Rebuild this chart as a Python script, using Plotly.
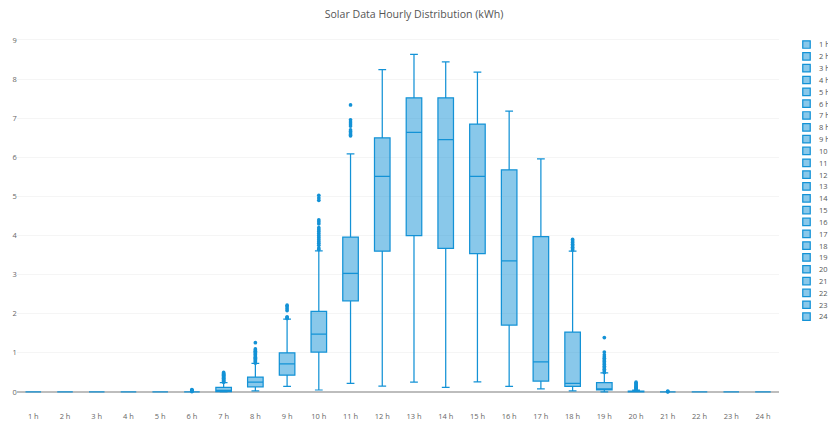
import plotly.graph_objects as go

# ---- data ----
hours = ["1 h", "2 h", "3 h", "4 h", "5 h", "6 h", "7 h", "8 h", "9 h", "10 h", "11 h", "12 h",
         "13 h", "14 h", "15 h", "16 h", "17 h", "18 h", "19 h", "20 h", "21 h", "22 h", "23 h", "24 h"]

lowerfence = [0, 0, 0, 0, 0, 0, 0.0, 0.03, 0.14, 0.05, 0.22, 0.15,
              0.25, 0.12, 0.26, 0.14, 0.08, 0.03, 0.0, 0, 0, 0, 0, 0]
q1 = [0, 0, 0, 0, 0, 0, 0.01, 0.13, 0.43, 1.02, 2.33, 3.60,
      4.00, 3.67, 3.54, 1.71, 0.28, 0.14, 0.05, 0.0, 0, 0, 0, 0]
median = [0, 0, 0, 0, 0, 0, 0.04, 0.25, 0.72, 1.48, 3.03, 5.51,
          6.64, 6.45, 5.51, 3.35, 0.77, 0.22, 0.08, 0.005, 0, 0, 0, 0]
q3 = [0, 0, 0, 0, 0, 0, 0.12, 0.38, 1.00, 2.06, 3.96, 6.50,
      7.52, 7.52, 6.85, 5.68, 3.97, 1.53, 0.24, 0.02, 0, 0, 0, 0]
upperfence = [0, 0, 0, 0, 0, 0, 0.24, 0.73, 1.86, 3.61, 6.09, 8.24,
              8.63, 8.44, 8.18, 7.18, 5.96, 3.60, 0.49, 0.05, 0, 0, 0, 0]

outliers = {
    "6 h": [0.01, 0.02, 0.03, 0.04, 0.05, 0.06],
    "7 h": [0.25, 0.27, 0.29, 0.31, 0.33, 0.35, 0.37, 0.39, 0.41, 0.43, 0.45, 0.47, 0.50],
    "8 h": [0.74, 0.77, 0.80, 0.83, 0.86, 0.89, 0.92, 0.95, 0.98, 1.01, 1.04, 1.07, 1.10, 1.26],
    "9 h": [1.88, 1.90, 1.92, 2.08, 2.13, 2.18, 2.22],
    "10 h": [3.64, 3.68, 3.75, 3.80, 3.85, 3.90, 3.95, 4.00, 4.05, 4.10, 4.15, 4.20, 4.30, 4.35,
             4.40, 4.90, 4.96, 5.03],
    "11 h": [6.55, 6.58, 6.62, 6.66, 6.70, 6.80, 6.85, 6.90, 6.96, 7.34],
    "18 h": [3.63, 3.66, 3.70, 3.74, 3.78, 3.82, 3.86, 3.90],
    "19 h": [0.50, 0.54, 0.58, 0.62, 0.66, 0.70, 0.74, 0.78, 0.82, 0.86, 0.90, 0.95, 1.02, 1.39],
    "20 h": [0.06, 0.08, 0.10, 0.12, 0.14, 0.16, 0.19, 0.22, 0.25],
    "21 h": [0.005, 0.01, 0.02],
}

BLUE = "rgb(19,146,214)"

fig = go.Figure()
for i, h in enumerate(hours):
    pts = outliers.get(h)
    kw = {}
    if pts:
        kw["y"] = [pts]
    fig.add_trace(go.Box(
        name=h, x=[h],
        q1=[q1[i]], median=[median[i]], q3=[q3[i]],
        lowerfence=[lowerfence[i]], upperfence=[upperfence[i]],
        boxpoints="outliers",
        marker=dict(color=BLUE, size=6),
        line=dict(color=BLUE, width=2),
        **kw,
    ))

W, H = 1330, 676
fig.update_layout(
    width=W, height=H,
    paper_bgcolor="white", plot_bgcolor="white",
    font=dict(family="Open Sans, sans-serif", size=12, color="#555"),
    title=dict(text="Solar Data Hourly Distribution (kWh)", x=0.5, xanchor="center",
               y=1 - 22.5 / H, yanchor="middle", font=dict(size=17, color="#555")),
    margin=dict(l=28, r=79, t=57, b=16, autoexpand=False),
    showlegend=True,
    legend=dict(x=1.02, y=1, xanchor="left", yanchor="top", font=dict(size=12, color="#555")),
    xaxis=dict(type="category", showgrid=False, zeroline=False, showline=False,
               automargin=False, tickfont=dict(size=12, color="#666")),
    yaxis=dict(range=[-0.484, 9.115], dtick=1, showgrid=True, gridcolor="#efefef",
               zeroline=True, zerolinecolor="#bdbdbd", zerolinewidth=2,
               automargin=False, tickfont=dict(size=12, color="#666")),
)

scale = 828 / W
post = (
    "var d=document.getElementById('{plot_id}');"
    "document.documentElement.style.overflow='hidden';"
    "document.body.style.margin='0';document.body.style.overflow='hidden';"
    "d.style.transformOrigin='0 0';"
    "d.style.transform='scale(%f)';" % scale
)
fig.write_html("out.html", post_script=post, config={"displayModeBar": False})
